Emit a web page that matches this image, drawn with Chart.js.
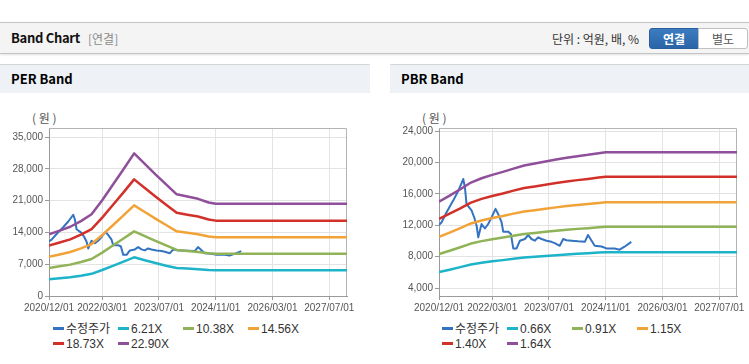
<!DOCTYPE html>
<html>
<head>
<meta charset="utf-8">
<script src="https://cdn.jsdelivr.net/npm/chart.js@4"></script>
<style>
  html,body{margin:0;padding:0;background:#fff;}
  body{width:749px;height:364px;overflow:hidden;position:relative;font-family:"Liberation Sans","Noto Sans CJK KR",Arial,sans-serif;}
  .hdr{position:absolute;left:0;top:22px;width:749px;height:30px;background:#f4f4f4;border-top:1px solid #c4c4c4;border-bottom:1px solid #c4c4c4;box-shadow:0 1px 2px rgba(0,0,0,0.12);}
  .hdr .t{position:absolute;left:11px;top:7px;font-size:13px;font-weight:bold;color:#111;font-family:"Noto Sans CJK KR","Liberation Sans",sans-serif;letter-spacing:-0.3px;line-height:16px;}
  .hdr .s{position:absolute;left:88px;top:8px;font-size:12px;color:#8a8a8a;font-family:"Noto Sans CJK KR",sans-serif;line-height:15px;}
  .hdr .u{position:absolute;left:552px;top:8px;font-size:12px;color:#333;font-family:"Noto Sans CJK KR",sans-serif;line-height:15px;white-space:pre;}
  .btn{position:absolute;top:5px;height:19px;width:48px;font-size:12px;line-height:19px;text-align:center;font-family:"Noto Sans CJK KR",sans-serif;}
  .b1{left:649px;background:linear-gradient(#3d7cc0,#2b64a8);color:#fff;font-weight:bold;border:1px solid #2a5f9e;border-radius:3px 0 0 3px;}
  .b2{left:698px;background:#fff;color:#555;border:1px solid #c0c0c0;border-radius:0 3px 3px 0;}
  .ptitle{position:absolute;top:64px;height:28px;background:#eef2f7;border-top:1px solid #d6d6d6;}
  .ptitle span{position:absolute;left:11px;top:6px;font-size:13px;font-weight:bold;color:#000;font-family:"Noto Sans CJK KR","Liberation Sans",sans-serif;line-height:16px;}
  .unit{position:absolute;top:111px;font-size:12px;color:#555;font-family:"Noto Sans CJK KR",sans-serif;line-height:14px;white-space:pre;}
  .cv{position:absolute;top:110px;}
  .legend{position:absolute;top:322px;display:grid;grid-template-columns:65px 65px 65px 65px;row-gap:0px;}
  .legend div{height:15px;line-height:15px;font-size:12px;color:#333;white-space:nowrap;font-family:"Liberation Sans","Noto Sans CJK KR",sans-serif;}
  .legend i{display:inline-block;width:11px;height:3px;vertical-align:middle;margin-right:2px;position:relative;top:-1px;}
</style>
</head>
<body>
<div class="hdr">
  <div class="t">Band Chart</div>
  <div class="s">[연결]</div>
  <div class="u">단위 : 억원, 배, %</div>
  <div class="btn b1">연결</div>
  <div class="btn b2">별도</div>
</div>
<div class="ptitle" style="left:0;width:370px;"><span>PER Band</span></div>
<div class="ptitle" style="left:390px;width:359px;"><span>PBR Band</span></div>
<div class="unit" style="left:32px;">( 원 )</div>
<div class="unit" style="left:422px;">( 원 )</div>
<canvas id="per" class="cv" style="left:0;" width="360" height="210"></canvas>
<canvas id="pbr" class="cv" style="left:390px;" width="360" height="210"></canvas>
<div id="perLegend" class="legend" style="left:53px;"></div>
<div id="pbrLegend" class="legend" style="left:442px;"></div>
<script>
// ---- x axis tick labels ----
const xTickLabels = ['2020/12/01','2022/03/01','2023/07/01','2024/11/01','2026/03/01','2027/07/01'];
const xAxisEnd = '2027/12/01';

// ---- adjusted price (수정주가) ----
const priceDates = ['2020/12/01','2020/12/23','2021/02/05','2021/04/01','2021/05/14','2021/06/26','2021/07/10','2021/07/24','2021/09/06','2021/09/29','2021/10/19','2021/11/03','2021/12/01','2021/12/29','2022/01/27','2022/02/25','2022/03/29','2022/04/21','2022/05/20','2022/06/04','2022/07/16','2022/08/09','2022/08/29','2022/09/27','2022/10/25','2022/12/07','2023/01/05','2023/02/03','2023/03/01','2023/03/29','2023/04/28','2023/06/10','2023/07/22','2023/08/20','2023/10/02','2023/11/01','2023/11/29','2024/01/11','2024/03/07','2024/05/04','2024/06/01','2024/07/28','2024/09/25','2024/11/07','2025/01/16','2025/02/28','2025/04/10','2025/06/07'];
const priceValues = [12040,12400,13660,15150,16400,17900,16850,14700,13900,13000,11960,10470,12170,11600,12170,13000,14100,13450,12400,11200,11200,10900,9060,9060,10040,10260,10770,10260,10040,10470,10260,10040,9900,9740,9400,10260,10100,10040,9960,9900,10770,9400,9300,9060,9060,8900,9280,9900];

// ---- band dates ----
const bandDates = ['2020/12/01','2021/03/01','2021/06/01','2021/09/01','2021/12/01','2022/03/01','2022/06/01','2022/09/01','2022/12/01','2023/03/01','2023/06/01','2023/09/01','2023/12/01','2024/03/01','2024/06/01','2024/09/01','2024/11/01','2027/12/01'];

// ---- PER bands ----
const perLabels = ['수정주가','6.21X','10.38X','14.56X','18.73X','22.90X'];
const per621  = [3690,3900,4140,4470,4880,5720,6640,7570,8520,7890,7270,6670,6150,6050,5900,5700,5650,5650];
const per1038 = [6160,6530,6910,7480,8160,9560,11110,12650,14230,13190,12150,11150,10150,9930,9700,9400,9300,9300];
const per1456 = [8650,9160,9700,10490,11440,13420,15580,17740,19960,18500,17040,15640,14240,13920,13610,13100,12950,12950];
const per1873 = [11120,11780,12470,13500,14720,17260,20040,22820,25680,23800,21920,20120,18320,17910,17500,16850,16600,16600];
const per2290 = [13600,14400,15250,16500,18000,21100,24500,27900,31400,29100,26800,24600,22400,21900,21400,20600,20300,20300];
const perYTicks = [0,7000,14000,21000,28000,35000];

// ---- PBR bands ----
const pbrLabels = ['수정주가','0.66X','0.91X','1.15X','1.40X','1.64X'];
const pbr066 = [6040,6350,6680,7020,7240,7420,7570,7740,7900,8000,8100,8200,8290,8370,8440,8530,8580,8580];
const pbr091 = [8330,8760,9210,9680,9990,10230,10440,10670,10890,11030,11170,11310,11430,11550,11640,11760,11830,11830];
const pbr115 = [10530,11070,11640,12240,12620,12930,13190,13490,13760,13930,14120,14290,14450,14590,14710,14860,14950,14950];
const pbr140 = [12820,13480,14170,14900,15370,15740,16060,16420,16750,16960,17180,17400,17590,17760,17910,18090,18200,18200];
const pbr164 = [15020,15790,16600,17450,18000,18430,18810,19230,19620,19870,20130,20380,20600,20810,20980,21190,21320,21320];
const pbrYTicks = [4000,8000,12000,16000,20000,24000];

const colors = ['#3473c1','#1db3c9','#8fb356','#f2a338','#d2312a','#8f4f9a'];

function monthIndex(s){
  const p = s.split('/').map(Number);
  return (p[0]-2020)*12 + (p[1]-12) + ((p[2]||1)-1)/30;
}
function pts(dates, vals){ return dates.map((d,i)=>({x:monthIndex(d), y:vals[i]})); }

const borderPlugin = {
  id:'plotBorder',
  beforeDatasetsDraw(chart){
    const a = chart.chartArea, c = chart.ctx;
    c.save();
    c.strokeStyle = '#b4b4b4'; c.lineWidth = 1;
    c.beginPath();
    c.moveTo(a.left, a.top+0.5); c.lineTo(a.right-0.5, a.top+0.5); c.lineTo(a.right-0.5, a.bottom);
    c.stroke();
    c.restore();
  }
};

function makeChart(id, labels, bands, yTicks, yMin, yMax, legendId){
  const datasets = [{label:labels[0], data:pts(priceDates, priceValues), borderColor:colors[0], borderWidth:2, order:1}];
  bands.forEach((b,i)=>datasets.push({label:labels[i+1], data:pts(bandDates, b), borderColor:colors[i+1], borderWidth:2.5, order:0}));
  const xTickVals = xTickLabels.map(monthIndex);
  new Chart(document.getElementById(id), {
    type:'line',
    data:{datasets},
    options:{
      responsive:false, animation:false, devicePixelRatio:1,
      elements:{point:{radius:0}, line:{tension:0, borderCapStyle:'butt', borderJoinStyle:'round'}},
      layout:{padding:{left:0,right:13,top:18,bottom:0}},
      plugins:{legend:{display:false}, tooltip:{enabled:false}},
      font:{family:'"Liberation Sans", Arial, sans-serif'},
      scales:{
        x:{type:'linear', min:0, max:monthIndex(xAxisEnd),
          afterBuildTicks(s){ s.ticks = xTickVals.map(v=>({value:v})); },
          afterFit(s){ s.height = 24; },
          ticks:{autoSkip:false, maxRotation:0, padding:2, color:'#555', font:{size:10, family:'"Liberation Sans", Arial, sans-serif'},
            callback(v){ const i = xTickVals.findIndex(t=>Math.abs(t-v)<0.01); return i>=0 ? xTickLabels[i] : null; }},
          grid:{color:'#e3e3e3', tickColor:'#9a9a9a', tickLength:4},
          border:{color:'#9a9a9a'}
        },
        y:{type:'linear', min:yMin, max:yMax,
          afterBuildTicks(s){ s.ticks = yTicks.map(v=>({value:v})); },
          afterFit(s){ s.width = 49; },
          ticks:{padding:2, color:'#555', font:{size:10, family:'"Liberation Sans", Arial, sans-serif'},
            callback(v){ return v.toLocaleString('en-US'); }},
          grid:{color:'#e3e3e3', tickColor:'#9a9a9a', tickLength:4},
          border:{color:'#9a9a9a'}
        }
      }
    },
    plugins:[borderPlugin]
  });
  const lg = document.getElementById(legendId);
  labels.forEach((l,i)=>{
    const d = document.createElement('div');
    const ic = document.createElement('i'); ic.style.background = colors[i];
    d.appendChild(ic); d.appendChild(document.createTextNode(l));
    lg.appendChild(d);
  });
}

makeChart('per', perLabels, [per621, per1038, per1456, per1873, per2290], perYTicks, 0, 37000, 'perLegend');
makeChart('pbr', pbrLabels, [pbr066, pbr091, pbr115, pbr140, pbr164], pbrYTicks, 3000, 24400, 'pbrLegend');
</script>
</body>
</html>
